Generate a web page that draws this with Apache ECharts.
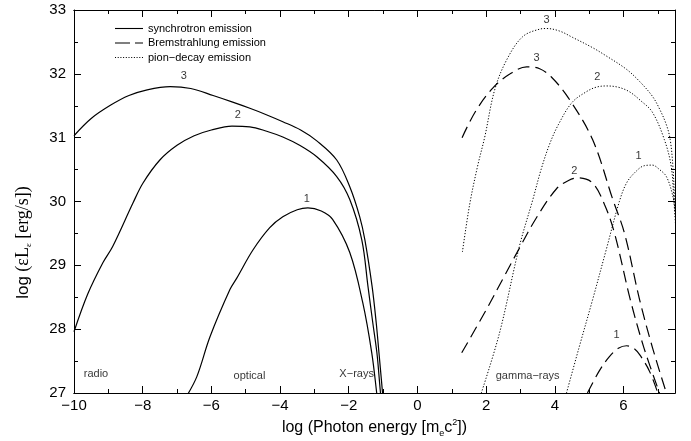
<!DOCTYPE html>
<html><head><meta charset="utf-8">
<script src="https://cdn.jsdelivr.net/npm/echarts@6/dist/echarts.min.js"></script>
<style>html,body{margin:0;padding:0;background:#fff}#c{width:691px;height:441px}</style>
</head><body><div id="c"></div>
<script>
// ---- data (log photon energy, log εLε) ----
const sync1 = [[-6.72,26.95],[-6.42,27.26],[-6.04,27.88],[-5.46,28.62],[-5.26,28.8],[-4.79,29.24],[-4.3,29.59],[-3.92,29.76],[-3.5,29.87],[-3.19,29.9],[-2.8,29.85],[-2.47,29.72],[-1.97,29.2],[-1.59,28.41],[-1.33,27.63],[-1.19,27.02],[-1.17,26.9]];
const sync2 = [[-10,27.96],[-9.6,28.55],[-9.16,29.04],[-8.87,29.3],[-8.28,29.98],[-7.99,30.29],[-7.5,30.65],[-7.0,30.88],[-6.5,31.03],[-6.0,31.12],[-5.4,31.18],[-4.88,31.17],[-4.39,31.1],[-3.92,31.01],[-3.43,30.88],[-2.93,30.7],[-2.35,30.39],[-1.97,30.03],[-1.62,29.4],[-1.44,28.67],[-1.3,28.1],[-1.18,27.63],[-1.1,27.15],[-1.06,26.9]];
const sync3 = [[-10,31.03],[-9.5,31.3],[-8.93,31.51],[-8.4,31.66],[-7.87,31.75],[-7.2,31.8],[-6.6,31.77],[-5.95,31.66],[-5.4,31.56],[-4.88,31.46],[-4.4,31.36],[-3.92,31.25],[-3.4,31.12],[-2.93,30.95],[-2.35,30.65],[-1.97,30.23],[-1.68,29.76],[-1.53,29.4],[-1.32,28.67],[-1.2,28.1],[-1.12,27.63],[-1.04,27.15],[-1.0,26.9]];
const brems1 = [[4.95,27.0],[5.3,27.35],[5.59,27.57],[5.85,27.7],[6.09,27.74],[6.3,27.7],[6.47,27.6],[6.75,27.35],[7.0,27.0]];
const brems2 = [[1.29,27.63],[2.01,28.31],[2.5,28.8],[2.97,29.27],[3.47,29.75],[4.05,30.2],[4.4,30.33],[4.68,30.37],[5.1,30.29],[5.45,29.95],[5.74,29.5],[6.2,28.46],[6.6,27.7],[7.05,27.0]];
const brems3 = [[1.3,31.0],[1.7,31.42],[2.2,31.78],[2.7,32.0],[3.18,32.11],[3.56,32.08],[3.9,31.95],[4.4,31.62],[5.1,30.97],[5.69,30.03],[6.03,29.5],[6.47,28.46],[6.85,27.7],[7.25,27.0]];
const pion1 = [[4.34,27.0],[4.7,27.7],[5.1,28.46],[5.5,29.25],[5.88,30.0],[6.1,30.3],[6.38,30.48],[6.6,30.56],[6.84,30.57],[7.05,30.5],[7.25,30.39],[7.43,30.1],[7.52,29.8]];
const pion2 = [[1.86,27.0],[2.39,27.94],[2.97,29.3],[3.36,30.03],[3.6,30.5],[3.85,30.9],[4.1,31.2],[4.5,31.55],[4.92,31.72],[5.2,31.79],[5.5,31.81],[5.85,31.79],[6.17,31.72],[6.5,31.58],[6.84,31.4],[7.19,30.97],[7.39,30.55],[7.47,30.0],[7.52,29.6]];
const pion3 = [[1.31,29.21],[1.52,29.95],[1.75,30.55],[1.96,31.01],[2.25,31.75],[2.6,32.22],[3.06,32.58],[3.56,32.7],[3.76,32.71],[4.14,32.67],[4.52,32.57],[5.1,32.41],[5.5,32.28],[6.09,32.07],[6.47,31.88],[6.84,31.65],[7.05,31.45],[7.25,31.2],[7.36,30.97],[7.44,30.54],[7.5,29.9],[7.53,29.6]];

const curveNumX = [-6.8, -5.23, -3.22, 3.76, 3.47, 5.24, 4.57, 6.44, 5.8];
const curveNumY = [31.97, 31.36, 30.04, 32.84, 32.25, 31.95, 30.48, 30.72, 27.91];
const curveNumText = ['3','2','1','3','3','2','2','1','1'];
const bandX = [-9.36, -4.89, -1.77, 3.21];
const bandY = [27.3, 27.27, 27.3, 27.27];
const bandText = ['radio','optical','X\u2212rays','gamma\u2212rays'];

const legendNames = ['synchrotron emission','Bremstrahlung emission','pion\u2212decay emission'];
const xMin = -10, xMax = 7.5, yMin = 27, yMax = 33;

// ---- chart ----
const sans = '"Liberation Sans", Arial, Helvetica, sans-serif';
const serif = '"Liberation Serif", "Times New Roman", serif';
const black = '#000';
const chart = echarts.init(document.getElementById('c'), null, {renderer: 'canvas'});
const minus = v => String(v).replace('-', '\u2212');

function xAx(position, interval, tickLen, labels, extra) {
  return Object.assign({
    type: 'value', position, min: xMin, max: xMax, interval,
    axisLine: {show: true, onZero: false, lineStyle: {color: black, width: 1}},
    axisTick: {show: true, inside: true, length: tickLen, lineStyle: {color: black, width: 1}},
    axisLabel: labels ? {show: true, color: black, fontFamily: sans, fontSize: 15, margin: 5,
      showMaxLabel: false, formatter: v => (v > 6.9 ? '' : minus(v))} : {show: false},
    splitLine: {show: false}, minorTick: {show: false}, minorSplitLine: {show: false}
  }, extra || {});
}
function yAx(position, labels, extra) {
  return Object.assign({
    type: 'value', position, min: yMin, max: yMax, interval: 1,
    axisLine: {show: true, onZero: false, lineStyle: {color: black, width: 1}},
    axisTick: {show: true, inside: true, length: 7, lineStyle: {color: black, width: 1}},
    minorTick: {show: true, splitNumber: 2, length: 4, lineStyle: {color: black, width: 1}},
    axisLabel: labels ? {show: true, color: black, fontFamily: sans, fontSize: 15, margin: 8} : {show: false},
    splitLine: {show: false}, minorSplitLine: {show: false}
  }, extra || {});
}

function line(name, data, type, width) {
  return {
    type: 'line', name, data, xAxisIndex: 0, yAxisIndex: 0,
    symbol: 'none', showSymbol: false, smooth: 0.35, clip: true,
    lineStyle: {color: black, width, type}, itemStyle: {color: black},
    emphasis: {disabled: true}, silent: true
  };
}
const dashed = [12, 6];
const dotted = [1.2, 1.8];

function textSeries(xs, ys, texts, size) {
  return {
    type: 'scatter', xAxisIndex: 0, yAxisIndex: 0, symbolSize: 0, silent: true,
    data: xs.map((x, i) => ({value: [x, ys[i]], name: texts[i]})),
    label: {show: true, position: 'inside', formatter: '{b}', color: black, fontFamily: sans, fontSize: size},
    emphasis: {disabled: true}
  };
}

// legend sample icons (solid / long dash / dotted)
let dots = '';
for (let i = 0; i < 28; i += 2.6) dots += 'M' + i.toFixed(1) + ',0h1v1.1h-1Z';
const legendIcons = [
  'path://M0,0H28V1.1H0Z',
  'path://M0,0H15V1.1H0ZM20,0H28V1.1H20Z',
  'path://' + dots
];

const option = {
  animation: false,
  backgroundColor: '#fff',
  grid: {left: 74, right: 16, top: 10, bottom: 48, containLabel: false, outerBoundsMode: 'none'},
  legend: {
    show: true, orient: 'vertical', left: 110, top: 18, itemWidth: 28, itemHeight: 12, itemGap: 3.5,
    symbolKeepAspect: true, itemStyle: {color: black, borderWidth: 0},
    data: legendNames.map((n, i) => ({name: n, icon: legendIcons[i]})),
    textStyle: {color: black, fontFamily: sans, fontSize: 11}, selectedMode: false
  },
  xAxis: [
    xAx('bottom', 2, 7, true, {
      name: '{a|log (Photon energy [m}{s|e}{a|c}{p|2}{a|])}', nameLocation: 'middle', nameGap: 22,
      nameTextStyle: {color: black, rich: {
        a: {fontFamily: sans, fontSize: 16, color: black, lineHeight: 20},
        s: {fontFamily: sans, fontSize: 9, color: black, verticalAlign: 'bottom', lineHeight: 10},
        p: {fontFamily: sans, fontSize: 9, color: black, verticalAlign: 'top', lineHeight: 12}
      }}
    }),
    xAx('bottom', 1, 4, false),
    xAx('top', 2, 7, false),
    xAx('top', 1, 4, false)
  ],
  yAxis: [
    yAx('left', true, {
      name: '{a|log}{b| (\u03b5L}{s|\u03b5}{b| [erg/s])}', nameLocation: 'middle', nameGap: 41, nameRotate: 90,
      nameTextStyle: {color: black, padding: [0, 82, 0, 0], rich: {
        a: {fontFamily: sans, fontSize: 17, color: black, lineHeight: 20},
        b: {fontFamily: serif, fontSize: 18, color: black, lineHeight: 20},
        s: {fontFamily: serif, fontSize: 9, color: black, verticalAlign: 'bottom', lineHeight: 10}
      }}
    }),
    yAx('right', false)
  ],
  series: [
    line(legendNames[0], sync3, 'solid', 1.2),
    line(legendNames[0], sync2, 'solid', 1.2),
    line(legendNames[0], sync1, 'solid', 1.2),
    line(legendNames[1], brems3, dashed, 1.2),
    line(legendNames[1], brems2, dashed, 1.2),
    line(legendNames[1], brems1, dashed, 1.2),
    line(legendNames[2], pion3, dotted, 1),
    line(legendNames[2], pion2, dotted, 1),
    line(legendNames[2], pion1, dotted, 1),
    textSeries(curveNumX, curveNumY, curveNumText, 11),
    textSeries(bandX, bandY, bandText, 11)
  ]
};
chart.setOption(option);
</script>
</body></html>
